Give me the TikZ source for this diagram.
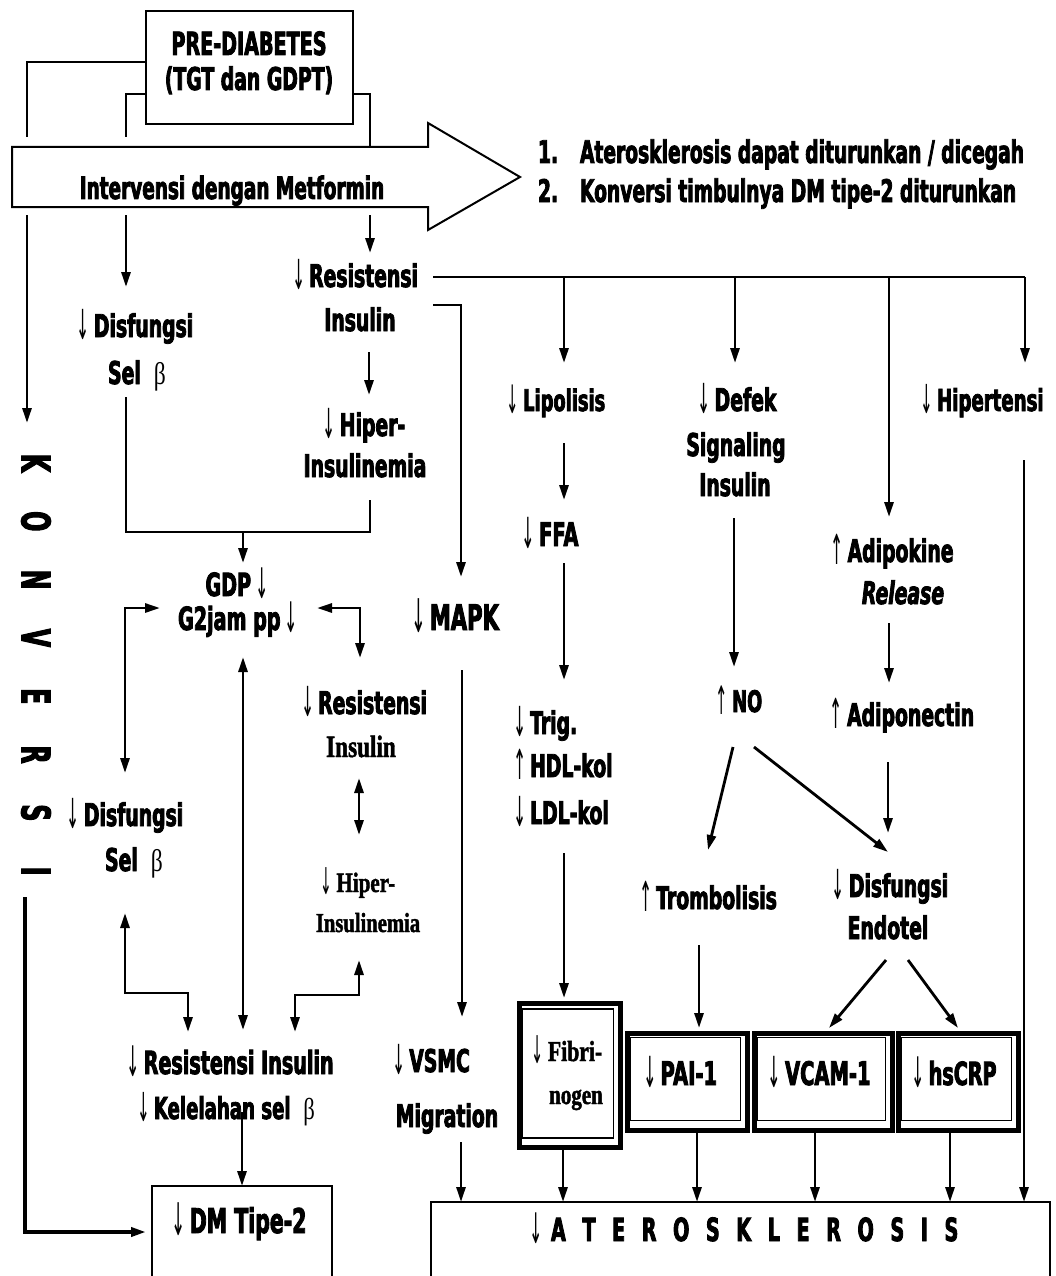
\documentclass[tikz,border=0pt]{standalone}
\usepackage{fontspec}
\usepackage{graphicx}
\usetikzlibrary{arrows.meta}
\newfontfamily\sanf[FakeStretch=0.6,BoldFeatures={FakeBold=2.5},BoldItalicFeatures={FakeBold=2.5}]{DejaVu Sans}
\newfontfamily\serf[FakeStretch=0.75,BoldFeatures={FakeBold=1.5}]{Liberation Serif}
\newfontfamily\arrf[FakeStretch=0.5]{DejaVu Sans}
\newcommand\fsz[1]{\fontsize{\the\dimexpr #1pt*11/10\relax}{#1pt}\selectfont}
\newcommand\arrglyph[1]{\raisebox{-0.08em}{\scalebox{1}[1.32]{\arrf\mdseries\upshape #1}}}
\newcommand\mydn{\arrglyph{↓}\hspace{4pt}}
\newcommand\myup{\arrglyph{↑}\hspace{4pt}}
\newcommand\lsp{\hspace{16.6pt}}
\newcommand\mybeta{{\serf\mdseries β}}
\tikzset{
  lab/.style={anchor=base,inner sep=0pt,outer sep=0pt,font=\sanf\bfseries\fsz{#1}},
  lab/.default=28.5,
  ser/.style={anchor=base,inner sep=0pt,outer sep=0pt,font=\serf\bfseries\fontsize{#1}{#1}\selectfont},
  ser/.default=28,
  konv/.style={inner sep=0pt,font=\sanf\bfseries\fsz{36},rotate=-90},
  ln/.style={line width=2.8pt},
  ar/.style={ln,-{Triangle[length=15pt,width=9pt]}},
  dar/.style={ln,{Triangle[length=15pt,width=9pt]}-{Triangle[length=15pt,width=9pt]}},
  frame/.style={line width=2pt},
  thickbox/.style={draw,line width=5pt,inner sep=0pt,anchor=north west},
  thinbox/.style={draw,line width=1.6pt,inner sep=0pt,anchor=north west},
}
\begin{document}
\begin{tikzpicture}[x=1pt,y=-1pt]
\useasboundingbox (0,0) rectangle (1056,1276);
\fill[white] (0,0) rectangle (1056,1276);

% ---------- boxes ----------
\node[draw,frame,inner sep=0pt,anchor=north west,minimum width=207pt,minimum height=113pt] (prebox) at (145,10) {};
\draw[frame] (12,147) -- (428,147) -- (428,123) -- (520,177) -- (428,230) -- (428,207) -- (12,207) -- cycle;
\draw[frame] (152,1290) -- (152,1186) -- (332,1186) -- (332,1290);
\draw[frame] (431,1290) -- (431,1202) -- (1050,1202) -- (1050,1290);

% double-framed boxes
\node[thickbox,minimum width=101pt,minimum height=144pt] (fibo) at (516.5,1000.5) {};
\node[thinbox,minimum width=91pt,minimum height=129pt] (fibi) at (521.5,1008) {};
\node[thickbox,minimum width=120pt,minimum height=97pt] (paio) at (624.5,1030.5) {};
\node[thinbox,minimum width=110pt,minimum height=83pt] (paii) at (629.5,1036.5) {};
\node[thickbox,minimum width=138pt,minimum height=97pt] (vcamo) at (751.5,1030.5) {};
\node[thinbox,minimum width=128pt,minimum height=83pt] (vcami) at (756.5,1036.5) {};
\node[thickbox,minimum width=120pt,minimum height=97pt] (crpo) at (895.5,1030.5) {};
\node[thinbox,minimum width=110pt,minimum height=83pt] (crpi) at (900.5,1036.5) {};

% ---------- texts ----------
\node[lab=29] (pre1) at (249,55) {PRE-DIABETES};
\node[lab=28.5] (pre2) at (249,90) {(TGT dan GDPT)};
\node[lab=28] (interv) at (232,199) {Intervensi dengan Metformin};
\node[lab=28.3,anchor=base west] (out1) at (538,163) {\makebox[42pt][l]{1.}Aterosklerosis dapat diturunkan / dicegah};
\node[lab=28.3,anchor=base west] (out2) at (538,202) {\makebox[42pt][l]{2.}Konversi timbulnya DM tipe-2 diturunkan};

\node[lab] (ri1) at (355,287) {\mydn Resistensi};
\node[lab] (ri2) at (360,331) {Insulin};
\node[lab] (ds1) at (135,337) {\mydn Disfungsi};
\node[lab] (ds2) at (137,384) {Sel\ \ \mybeta};
\node[lab] (hi1) at (364,436) {\mydn Hiper-};
\node[lab] (hi2) at (365,477) {Insulinemia};
\node[lab=29] (gdp) at (237,596) {GDP\hspace{4pt}\arrglyph{↓}};
\node[lab=29] (g2) at (238,630) {G2jam pp\hspace{4pt}\arrglyph{↓}};
\node[lab=32] (mapk) at (455,630) {\mydn MAPK};
\node[lab] (rb1) at (364,714) {\mydn Resistensi};
\node[ser=31] (rb2) at (361,757) {Insulin};
\node[ser=28] (hb1) at (358,892) {\mydn Hiper-};
\node[ser=27.5] (hb2) at (368,932) {Insulinemia};
\node[lab] (db1) at (125,826) {\mydn Disfungsi};
\node[lab] (db2) at (134,871) {Sel\ \ \mybeta};
\node[lab=29] (rc) at (230,1074) {\mydn Resistensi Insulin};
\node[lab=27.5] (kel) at (226,1119) {\mydn Kelelahan sel\ \ \mybeta};
\node[lab=31] (dm) at (239,1233) {\mydn DM Tipe-2};
\node[lab] (vs1) at (431,1072) {\mydn VSMC};
\node[lab] (vs2) at (447,1127) {Migration};

\node[lab=27] (lip) at (556,411) {\mydn Lipolisis};
\node[lab=29.5] (ffa) at (550,546) {\mydn FFA};
\node[lab,anchor=base west] (trig) at (513,734) {\mydn Trig.};
\node[lab,anchor=base west] (hdl) at (513,777) {\myup HDL-kol};
\node[lab,anchor=base west] (ldl) at (513,824) {\mydn LDL-kol};
\node[lab] (def1) at (737,411) {\mydn Defek};
\node[lab] (def2) at (736,456) {Signaling};
\node[lab] (def3) at (735,496) {Insulin};
\node[lab=27] (no) at (739,712) {\myup NO};
\node[lab] (adk1) at (892,562) {\myup Adipokine};
\node[lab] (adk2) at (903,604) {\itshape Release};
\node[lab] (adn) at (902,726) {\myup Adiponectin};
\node[lab=27.5] (hip) at (982,411) {\mydn Hipertensi};
\node[lab] (trb) at (708,909) {\myup Trombolisis};
\node[lab] (de1) at (890,897) {\mydn Disfungsi};
\node[lab] (de2) at (888,939) {Endotel};
\node[ser=29] (fib1) at (567,1061) {\mydn Fibri-};
\node[ser=28] (fib2) at (576,1104) {nogen};
\node[lab=29.5] (pai) at (680,1085) {\mydn PAI-1};
\node[lab=29.5] (vcam) at (819,1085) {\mydn VCAM-1};
\node[lab=29] (crp) at (954,1085) {\mydn hsCRP};
\node[lab=29] (ath) at (744,1241) {\mydn\hspace{4pt}A\lsp T\lsp E\lsp R\lsp O\lsp S\lsp K\lsp L\lsp E\lsp R\lsp O\lsp S\lsp I\lsp S};

\foreach \L [count=\i from 0] in {K,O,N,V,E,R,S,I}
  \node[konv] (kv\i) at (36,{463+58.3*\i}) {\L};

% ---------- connector points ----------
\coordinate (p1a) at (145,62);  \coordinate (p1b) at (27,62);   \coordinate (p1c) at (27,137);
\coordinate (p2a) at (145,94);  \coordinate (p2b) at (126,94);  \coordinate (p2c) at (126,137);
\coordinate (p3a) at (352,94);  \coordinate (p3b) at (370,94);  \coordinate (p3c) at (370,147);
\coordinate (q1a) at (27,215);  \coordinate (q1b) at (27,423);
\coordinate (q2a) at (126,215); \coordinate (q2b) at (126,287);
\coordinate (q3a) at (370,215); \coordinate (q3b) at (370,253);

\coordinate (h0) at (433,277); \coordinate (h1) at (564,277); \coordinate (h2) at (735,277);
\coordinate (h3) at (889,277); \coordinate (h4) at (1025,277);
\coordinate (h1e) at (564,363); \coordinate (h2e) at (735,363); \coordinate (h3e) at (889,517); \coordinate (h4e) at (1025,363);

\coordinate (m0) at (433,305); \coordinate (m1) at (461,305); \coordinate (m2) at (461,577);
\coordinate (i1) at (369,352); \coordinate (i2) at (369,395);
\coordinate (b1) at (126,397); \coordinate (b2) at (126,532); \coordinate (b3) at (370,532); \coordinate (b4) at (370,500);
\coordinate (b5) at (243,532); \coordinate (b6) at (243,563);

\coordinate (l1) at (160,608); \coordinate (l2) at (125,608); \coordinate (l3) at (125,773);
\coordinate (r1) at (317,608); \coordinate (r2) at (360,608); \coordinate (r3) at (360,658);
\coordinate (c1) at (243,657); \coordinate (c2) at (243,1030);
\coordinate (v1) at (462,670); \coordinate (v2) at (462,1017);
\coordinate (d1) at (359,778); \coordinate (d2) at (359,835);
\coordinate (e1) at (125,913); \coordinate (e2) at (125,993); \coordinate (e3) at (188,993); \coordinate (e4) at (188,1032);
\coordinate (f1) at (359,960); \coordinate (f2) at (359,995); \coordinate (f3) at (295,995); \coordinate (f4) at (295,1032);
\coordinate (g1) at (242,1112); \coordinate (g2c) at (242,1186);
\coordinate (kk1) at (25,897); \coordinate (kk2) at (25,1232); \coordinate (kk3) at (146,1232);
\coordinate (vv1) at (461,1142); \coordinate (vv2) at (461,1202);

\coordinate (x1) at (564,443); \coordinate (x2) at (564,500);
\coordinate (x3) at (564,563); \coordinate (x4) at (564,680);
\coordinate (x5) at (564,853); \coordinate (x6) at (564,998);
\coordinate (y1) at (734,518); \coordinate (y2) at (734,667);
\coordinate (y3) at (733,747); \coordinate (y4) at (708,850);
\coordinate (y5) at (754,747); \coordinate (y6) at (888,852);
\coordinate (z1) at (889,623); \coordinate (z2) at (889,683);
\coordinate (z3) at (888,762); \coordinate (z4) at (888,833);
\coordinate (t1) at (699,945); \coordinate (t2) at (699,1028);
\coordinate (u1) at (886,960); \coordinate (u2) at (829,1028);
\coordinate (u3) at (908,960); \coordinate (u4) at (958,1028);
\coordinate (w1) at (1024,460); \coordinate (w2) at (1024,1202);
\coordinate (a1) at (563,1147); \coordinate (a2) at (563,1202);
\coordinate (a3) at (697,1130); \coordinate (a4) at (697,1202);
\coordinate (a5) at (815,1130); \coordinate (a6) at (815,1202);
\coordinate (a7) at (950,1130); \coordinate (a8) at (950,1202);

% ---------- connectors ----------
\draw[ln] (p1a) -- (p1b) -- (p1c);
\draw[ln] (p2a) -- (p2b) -- (p2c);
\draw[ln] (p3a) -- (p3b) -- (p3c);
\draw[ar] (q1a) -- (q1b);
\draw[ar] (q2a) -- (q2b);
\draw[ar] (q3a) -- (q3b);

\draw[ln] (h0) -- (h4);
\draw[ar] (h1) -- (h1e);
\draw[ar] (h2) -- (h2e);
\draw[ar] (h3) -- (h3e);
\draw[ar] (h4) -- (h4e);
\draw[ar] (m0) -- (m1) -- (m2);
\draw[ar] (i1) -- (i2);
\draw[ln] (b1) -- (b2) -- (b3) -- (b4);
\draw[ar] (b5) -- (b6);

\draw[dar] (l1) -- (l2) -- (l3);
\draw[dar] (r1) -- (r2) -- (r3);
\draw[dar] (c1) -- (c2);
\draw[ar] (v1) -- (v2);
\draw[dar] (d1) -- (d2);
\draw[dar] (e1) -- (e2) -- (e3) -- (e4);
\draw[dar] (f1) -- (f2) -- (f3) -- (f4);
\draw[ar] (g1) -- (g2c);
\draw[ar,line width=3.6pt] (kk1) -- (kk2) -- (kk3);
\draw[ar] (vv1) -- (vv2);

\draw[ar] (x1) -- (x2);
\draw[ar] (x3) -- (x4);
\draw[ar] (x5) -- (x6);
\draw[ar] (y1) -- (y2);
\draw[ar] (y3) -- (y4);
\draw[ar] (y5) -- (y6);
\draw[ar] (z1) -- (z2);
\draw[ar] (z3) -- (z4);
\draw[ar] (t1) -- (t2);
\draw[ar] (u1) -- (u2);
\draw[ar] (u3) -- (u4);
\draw[ar] (w1) -- (w2);
\draw[ar] (a1) -- (a2);
\draw[ar] (a3) -- (a4);
\draw[ar] (a5) -- (a6);
\draw[ar] (a7) -- (a8);
\end{tikzpicture}
\end{document}
